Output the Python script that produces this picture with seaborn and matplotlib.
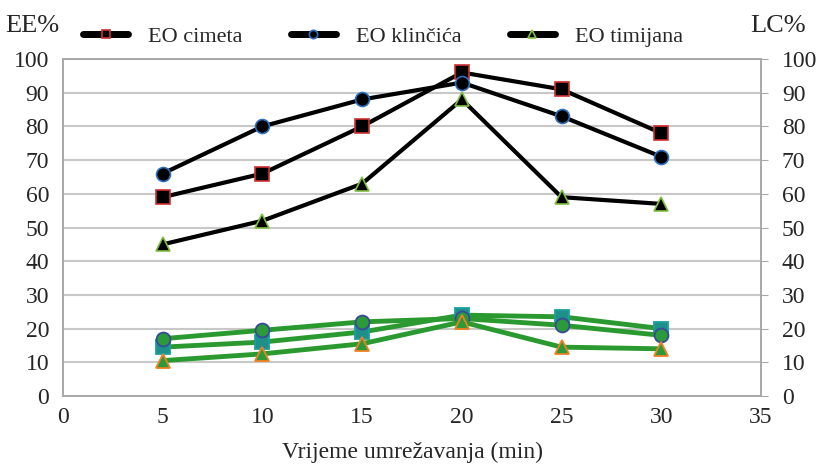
import matplotlib
matplotlib.use("Agg")
import matplotlib.pyplot as plt
import seaborn as sns
import pandas as pd

# ---- data ----
times = [5, 10, 15, 20, 25, 30]
ee_cimeta = [59, 66, 80, 96, 91, 78]
ee_klincica = [66, 80, 88, 93, 83, 71]
ee_timijana = [45, 52, 63, 88, 59, 57]
lc_cimeta = [14.5, 16, 19, 24, 23.5, 20]
lc_klincica = [17, 19.5, 22, 23, 21, 18]
lc_timijana = [10.5, 12.5, 15.5, 22, 14.5, 14]
labels = ["EO cimeta", "EO klinčića", "EO timijana"]
x_ticks = [0, 5, 10, 15, 20, 25, 30, 35]
y_ticks = [0, 10, 20, 30, 40, 50, 60, 70, 80, 90, 100]

sns.set_style("white")
plt.rcParams["font.family"] = ["Liberation Serif", "DejaVu Serif"]

fig = plt.figure(figsize=(8.21, 4.75), dpi=100)
ax = fig.add_axes([63 / 821, 1 - 396 / 475, (761 - 63) / 821, (396 - 59) / 475])
ax2 = ax.twinx()

grid_c = "#c8c8c8"
spine_c = "#a8a8a8"

# EE% series (black lines)
ee_sets = [(ee_cimeta, "s", "#d03030"), (ee_klincica, "o", "#2a6fc0"), (ee_timijana, "^", "#7fc040")]
for (vals, mk, ec), lab in zip(ee_sets, labels):
    sns.lineplot(x=times, y=vals, ax=ax, color="black", lw=3, marker=mk,
                 markersize=10, markerfacecolor="black", markeredgecolor=ec,
                 markeredgewidth=1.2, label=lab, zorder=5)

# LC% series (green lines)
lc_sets = [(lc_cimeta, "s", "#1f8f8a", "#1aa0a0"), (lc_klincica, "o", "#2a9a3a", "#3a4a9a"),
           (lc_timijana, "^", "#2a9a3a", "#f08020")]
for vals, mk, fc, ec in lc_sets:
    sns.lineplot(x=times, y=vals, ax=ax2, color="#2a9a30", lw=3.5, marker=mk,
                 markersize=10, markerfacecolor=fc, markeredgecolor=ec,
                 markeredgewidth=1.3, zorder=5)

for a in (ax, ax2):
    a.set_ylim(0, 100)
    a.set_yticks(y_ticks)
    a.set_xlim(0, 35)
    a.set_xticks(x_ticks)
    for s in a.spines.values():
        s.set_color(spine_c)
        s.set_linewidth(1.2)

ax.yaxis.grid(True, color=grid_c, lw=1.5)
ax.xaxis.grid(False)
ax.set_axisbelow(True)
ax.tick_params(axis="y", length=0, pad=10, labelsize=17)
ax.tick_params(axis="x", length=0, pad=8, labelsize=17)
ax2.tick_params(axis="y", length=5, color=spine_c, pad=10, labelsize=17)
ax2.set_ylabel("")
ax.set_ylabel("")
ax.set_xlabel("Vrijeme umrežavanja (min)", fontsize=17, labelpad=10)

fig.text(5 / 821, 1 - 26 / 475, "EE%", fontsize=19, ha="left", va="center")
fig.text(806 / 821, 1 - 26 / 475, "LC%", fontsize=19, ha="right", va="center")

h, l = ax.get_legend_handles_labels()
leg = ax.legend(h, l, ncol=3, frameon=False, fontsize=16, loc="center",
                bbox_to_anchor=(383 / 821, 1 - 37 / 475), bbox_transform=fig.transFigure,
                handlelength=2.0, handletextpad=0.9, columnspacing=2.2, markerscale=0.6)
for ln in leg.get_lines():
    ln.set_linewidth(5)

fig.savefig("out.png", dpi=100)
